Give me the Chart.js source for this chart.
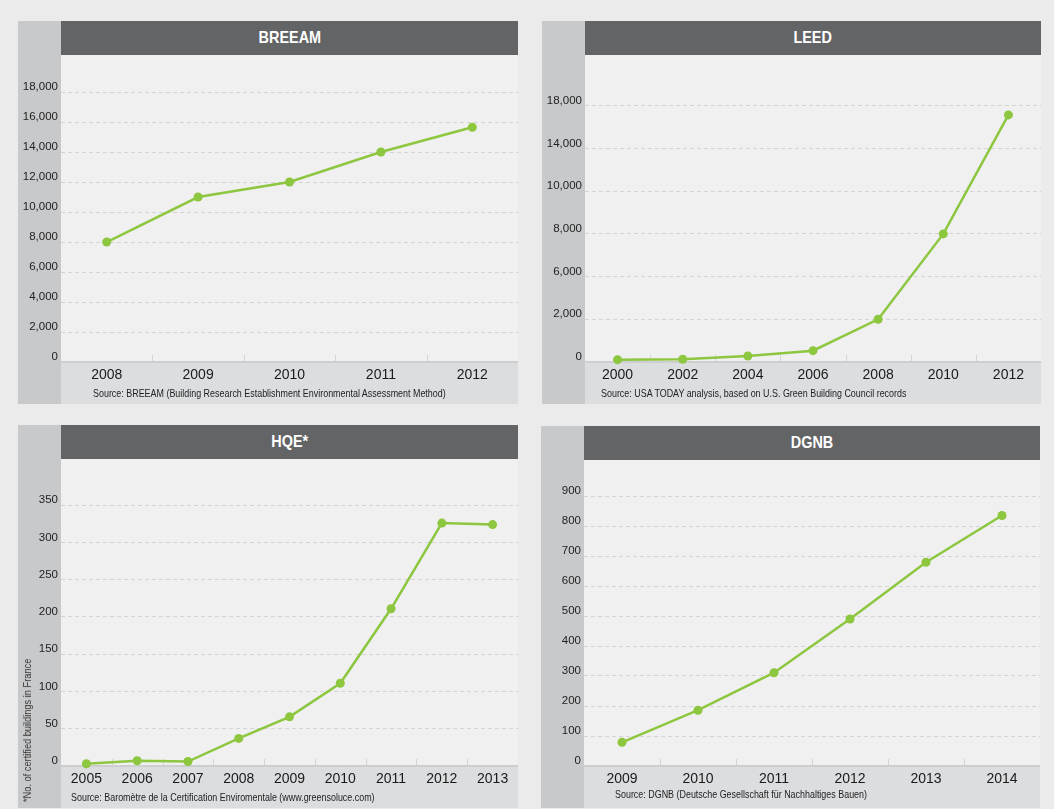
<!DOCTYPE html>
<html>
<head>
<meta charset="utf-8">
<script src="https://cdn.jsdelivr.net/npm/chart.js@4.4.0/dist/chart.umd.min.js"></script>
<style>
  body { margin: 0; background: #ebebeb; width: 1054px; height: 809px; position: relative; overflow: hidden;
         font-family: 'Liberation Sans', Arial, sans-serif; }
  .panel { position: absolute; background: #c8c9cb; }
  .head { position: absolute; left: 43px; right: 0; top: 0; height: 34px; background: #636466; color: #fff;
          font-weight: bold; font-size: 17px; line-height: 34px; text-align: center; }
  .head span { display: inline-block; transform: scaleX(0.85); }
  .plot { position: absolute; left: 0; right: 0; top: 34px; bottom: 0; }
  .src { position: absolute; font-size: 10.5px; line-height: 12px; color: #222; white-space: nowrap;
         transform: scaleX(0.85); transform-origin: 0 0; }
  .ytitle { position: absolute; left: 3px; bottom: -4px; font-size: 10.5px; line-height: 12px; color: #333;
            white-space: nowrap; writing-mode: vertical-rl; transform: rotate(180deg) scaleY(0.88);
            transform-origin: 50% 50%; }
</style>
</head>
<body>

<div class="panel" style="left:18px; top:21px; width:500px; height:383px;">
  <div class="head"><span>BREEAM</span></div>
  <div class="plot"><canvas id="breeam"></canvas></div>
  <div class="src" style="left:75px; top:366px;">Source: BREEAM (Building Research Establishment Environmental Assessment Method)</div>
</div>

<div class="panel" style="left:542px; top:21px; width:499px; height:383px;">
  <div class="head"><span>LEED</span></div>
  <div class="plot"><canvas id="leed"></canvas></div>
  <div class="src" style="left:59px; top:366px;">Source: USA TODAY analysis, based on U.S. Green Building Council records</div>
</div>

<div class="panel" style="left:18px; top:425px; width:500px; height:383px;">
  <div class="head"><span>HQE*</span></div>
  <div class="plot"><canvas id="hqe"></canvas></div>
  <div class="ytitle">*No. of certified buildings in France</div>
  <div class="src" style="left:53px; top:366px;">Source: Baromètre de la Certification Enviromentale (www.greensoluce.com)</div>
</div>

<div class="panel" style="left:541px; top:426px; width:499px; height:382px;">
  <div class="head"><span>DGNB</span></div>
  <div class="plot"><canvas id="dgnb"></canvas></div>
  <div class="src" style="left:74px; top:362px;">Source: DGNB (Deutsche Gesellschaft für Nachhaltiges Bauen)</div>
</div>

<script>
// ---- data ----
const breeamYears = ['2008', '2009', '2010', '2011', '2012'];
const breeamValues = [8000, 11000, 12000, 14000, 15650];
const breeamTicks = [0, 2000, 4000, 6000, 8000, 10000, 12000, 14000, 16000, 18000];

const leedYears = ['2000', '2002', '2004', '2006', '2008', '2010', '2012'];
const leedValues = [110, 130, 280, 530, 2000, 8000, 17150];
// printed labels sit on evenly spaced gridlines although they are not evenly spaced
const leedTicks = [0, 2000, 6000, 8000, 10000, 14000, 18000];

const hqeYears = ['2005', '2006', '2007', '2008', '2009', '2010', '2011', '2012', '2013'];
const hqeValues = [3, 7, 6, 37, 66, 111, 211, 326, 324];
const hqeTicks = [0, 50, 100, 150, 200, 250, 300, 350];

const dgnbYears = ['2009', '2010', '2011', '2012', '2013', '2014'];
const dgnbValues = [79, 186, 311, 490, 679, 835];
const dgnbTicks = [0, 100, 200, 300, 400, 500, 600, 700, 800, 900];

const GREEN = '#8dc63f';
Chart.defaults.font.family = "'Liberation Sans', Arial, sans-serif";

const fmt = v => v.toLocaleString('en-US');

// maps a value onto the gridline index of an unevenly labelled axis
function toSlot(v, ticks) {
  for (let i = 0; i < ticks.length - 1; i++) {
    if (v <= ticks[i + 1]) return i + (v - ticks[i]) / (ticks[i + 1] - ticks[i]);
  }
  return ticks.length - 1;
}

const panelBg = {
  id: 'panelBg',
  beforeDraw(chart) {
    const { ctx, chartArea: a, width, height } = chart;
    ctx.save();
    ctx.fillStyle = '#dcdddf';
    ctx.fillRect(0, 0, width, height);
    ctx.fillStyle = '#c8c9cb';
    ctx.fillRect(0, 0, a.left, height);
    ctx.fillStyle = '#f0f0f0';
    ctx.fillRect(a.left, a.top, a.right - a.left, a.bottom - a.top);
    ctx.restore();
  },
  beforeDatasetsDraw(chart) {
    // short dividers between categories, standing on the axis
    const x = chart.scales.x, a = chart.chartArea, ctx = chart.ctx;
    ctx.save();
    ctx.strokeStyle = '#d3d4d6';
    ctx.lineWidth = 1;
    for (let i = 1; i < x.ticks.length; i++) {
      const px = Math.round((x.getPixelForTick(i - 1) + x.getPixelForTick(i)) / 2) + 0.5;
      ctx.beginPath();
      ctx.moveTo(px, a.bottom - 7);
      ctx.lineTo(px, a.bottom);
      ctx.stroke();
    }
    ctx.restore();
  }
};

function makeChart(id, labels, values, tickValues, yMax, tickText) {
  return new Chart(document.getElementById(id), {
    type: 'line',
    data: {
      labels: labels,
      datasets: [{
        data: values,
        borderColor: GREEN,
        backgroundColor: GREEN,
        pointBackgroundColor: GREEN,
        borderWidth: 2.5,
        pointRadius: 4.5,
        pointBorderWidth: 0,
        tension: 0,
        clip: false
      }]
    },
    options: {
      responsive: true,
      maintainAspectRatio: false,
      animation: false,
      layout: { padding: 0, autoPadding: false },
      plugins: { legend: { display: false }, tooltip: { enabled: false } },
      scales: {
        x: {
          offset: true,
          grid: { display: false, drawTicks: false, offset: true },
          border: { display: true, color: '#cdcecf', width: 2 },
          ticks: { color: '#1a1a1a', font: { size: 14 }, padding: 5, maxRotation: 0, autoSkip: false },
          afterFit(s) { s.height = 42; s.paddingLeft = 0; s.paddingRight = 0; }
        },
        y: {
          min: 0,
          max: yMax,
          grid: {
            color: c => (c.tick && c.tick.value === 0) ? 'rgba(0,0,0,0)' : '#d4d4d4',
            lineWidth: 1,
            drawTicks: false
          },
          border: { display: false, dash: [4, 3] },
          afterBuildTicks(s) { s.ticks = tickValues.map(v => ({ value: v })); },
          ticks: { color: '#222', font: { size: 11.5 }, padding: 3, labelOffset: -5, callback: tickText },
          afterFit(s) { s.width = 43; s.paddingTop = 0; s.paddingBottom = 0; }
        }
      }
    },
    plugins: [panelBg]
  });
}

makeChart('breeam', breeamYears, breeamValues, breeamTicks, 20470, v => fmt(v));
makeChart('leed', leedYears, leedValues.map(v => toSlot(v, leedTicks)),
  leedTicks.map((_, i) => i), 7.19, v => fmt(leedTicks[v]));
makeChart('hqe', hqeYears, hqeValues, hqeTicks, 412, v => fmt(v));
makeChart('dgnb', dgnbYears, dgnbValues, dgnbTicks, 1020, v => fmt(v));
</script>
</body>
</html>
